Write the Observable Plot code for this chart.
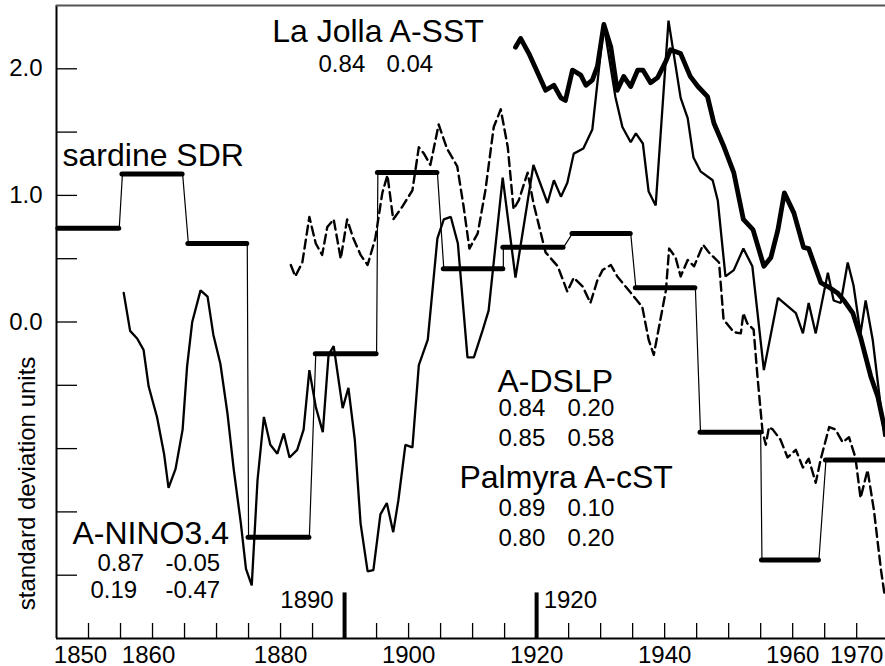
<!DOCTYPE html>
<html>
<head>
<meta charset="utf-8">
<script src="https://cdn.jsdelivr.net/npm/d3@7"></script>
<script src="https://cdn.jsdelivr.net/npm/@observablehq/plot@0.6"></script>
<style>
  html, body { margin: 0; padding: 0; background: #fff; overflow: hidden; }
</style>
</head>
<body>
<div id="chart"></div>
<script>
// ---- Data ----
// sardine SDR: decadal step values
const sdrStart = [1845.3, 1855.3, 1865.6, 1875.0, 1885.5, 1895.2, 1905.5, 1914.8, 1925.6, 1935.5, 1945.6, 1955.2, 1965.2];
const sdrEnd   = [1854.8, 1864.7, 1874.8, 1884.5, 1895.0, 1904.5, 1914.8, 1924.2, 1934.7, 1944.8, 1955.0, 1964.1, 1974.4];
const sdrValue = [0.74, 1.17, 0.62, -1.70, -0.25, 1.18, 0.42, 0.59, 0.70, 0.27, -0.87, -1.88, -1.09];

// thin solid series (A-NINO3.4 record)
const ninoYear = [1855.5,1856.5,1857.6,1858.6,1859.4,1860.7,1861.8,1862.5,1863.6,1864.7,1865.4,1866.2,1867.5,1868.6,1869.5,1870.6,1871.7,1872.7,1873.8,1874.6,1875.5,1876.4,1877.4,1878.4,1879.5,1880.5,1881.4,1882.6,1883.6,1884.5,1885.5,1886.6,1887.5,1888.3,1889.7,1890.6,1891.6,1892.5,1893.6,1894.5,1895.6,1896.6,1897.6,1898.4,1899.5,1900.6,1901.6,1903.0,1904.5,1905.5,1906.6,1907.7,1909.2,1910.2,1911.6,1912.5,1914.7,1916.7,1919.5,1921.7,1922.7,1923.8,1924.8,1925.8,1927.3,1928.7,1930.5,1932.3,1933.4,1934.7,1935.5,1936.6,1937.5,1938.6,1940.6,1942.5,1943.6,1944.5,1945.6,1947.5,1948.3,1949.5,1950.8,1952.3,1953.7,1955.5,1957.7,1960.5,1961.6,1962.5,1963.6,1965.5,1966.4,1967.5,1968.6,1969.5,1970.6,1971.4,1972.5,1974.3];
const ninoValue = [0.23,-0.07,-0.13,-0.22,-0.51,-0.75,-1.04,-1.31,-1.16,-0.85,-0.35,0.00,0.25,0.20,-0.10,-0.33,-0.72,-1.17,-1.59,-1.95,-2.08,-1.25,-0.75,-0.97,-1.04,-0.88,-1.07,-1.01,-0.85,-0.38,-0.67,-0.87,-0.26,-0.19,-0.68,-0.52,-0.93,-1.59,-1.97,-1.96,-1.52,-1.43,-1.66,-1.41,-0.97,-0.99,-0.34,-0.14,0.66,0.81,0.83,0.62,-0.28,-0.28,-0.06,0.09,1.14,0.35,1.24,0.94,1.12,0.99,1.10,1.33,1.37,1.52,2.35,1.78,1.54,1.42,1.49,1.41,1.03,0.92,2.38,1.77,1.61,1.30,1.19,1.12,0.96,0.36,0.41,0.58,0.44,-0.38,0.19,0.07,-0.09,0.15,-0.09,0.39,0.17,0.15,0.47,0.29,-0.09,0.17,-0.14,-0.90];

// dashed series
const dashYear = [1881.6,1882.3,1883.4,1884.5,1885.5,1886.5,1887.3,1888.3,1889.4,1890.4,1891.3,1892.5,1893.6,1894.8,1895.9,1896.7,1897.6,1899.0,1900.6,1901.6,1902.4,1903.4,1904.7,1906.0,1907.6,1908.6,1909.5,1910.8,1912.0,1913.3,1914.4,1915.5,1916.4,1917.2,1918.6,1919.5,1921.4,1923.3,1924.8,1925.8,1927.2,1928.4,1929.5,1930.3,1931.6,1932.6,1933.9,1935.2,1936.5,1937.5,1938.3,1940.2,1940.7,1941.7,1942.5,1943.6,1944.6,1946.0,1946.9,1947.7,1948.5,1949.2,1950.8,1951.9,1952.3,1952.9,1953.9,1954.5,1955.3,1955.8,1956.3,1956.9,1958.1,1959.2,1960.5,1961.6,1962.5,1963.6,1964.4,1965.7,1966.7,1967.8,1968.8,1969.8,1970.6,1971.7,1972.7,1973.8,1974.4];
const dashValue = [0.45,0.36,0.47,0.83,0.62,0.53,0.75,0.81,0.50,0.81,0.67,0.53,0.45,0.66,1.02,1.16,0.81,0.91,1.04,1.38,1.33,1.24,1.56,1.37,1.23,0.91,0.58,0.70,1.04,1.54,1.68,1.38,0.89,0.96,1.18,0.94,0.55,0.44,0.24,0.35,0.28,0.15,0.33,0.41,0.45,0.36,0.28,0.20,0.12,-0.14,-0.26,0.25,0.58,0.51,0.36,0.49,0.44,0.61,0.55,0.51,0.47,0.02,-0.08,-0.09,0.07,-0.01,-0.06,-0.43,-0.87,-0.97,-0.83,-0.85,-0.93,-1.07,-1.01,-1.15,-1.08,-1.27,-1.08,-0.83,-0.85,-0.95,-0.91,-1.07,-1.39,-1.17,-1.49,-1.96,-2.17];

// La Jolla A-SST (thick)
const ljYear = [1916.7,1917.5,1918.8,1921.4,1922.7,1923.8,1924.5,1925.6,1926.9,1927.7,1928.7,1929.5,1930.5,1931.6,1932.6,1933.6,1934.7,1935.8,1936.6,1937.8,1938.9,1940.2,1940.9,1942.5,1944.0,1945.2,1946.7,1947.7,1949.3,1950.8,1952.3,1953.8,1955.5,1956.6,1957.7,1958.7,1960.2,1961.7,1962.5,1964.4,1965.5,1967.0,1968.0,1969.4,1970.6,1972.2,1973.3,1974.4];
const ljValue = [2.17,2.24,2.12,1.83,1.87,1.77,1.75,1.99,1.95,1.87,1.91,2.02,2.35,2.17,1.83,1.94,1.86,1.99,1.99,1.89,1.93,2.06,2.15,2.12,1.94,1.86,1.78,1.57,1.38,1.18,0.81,0.73,0.44,0.51,0.73,1.02,0.86,0.59,0.58,0.31,0.28,0.23,0.17,0.07,-0.12,-0.43,-0.59,-0.85];

// markers and axis ticks
const markerYears = [1890, 1920];
const markerLabels = ["1890", "1920"];
const xTickYears = [1850,1855,1860,1865,1870,1875,1880,1885,1895,1900,1905,1910,1915,1925,1930,1935,1940,1945,1950,1955,1960,1965,1970];
const xLabelYears = [1850,1860,1880,1900,1920,1940,1960,1970];
const yTickValues = [-2,-1.5,-1,-0.5,0,0.5,1,1.5,2];
const yLabelValues = [0,1,2];

// text
const seriesNames = ["sardine SDR", "La Jolla A-SST", "A-DSLP", "Palmyra A-cST", "A-NINO3.4"];
const laJollaStats = ["0.84", "0.04"];
const dslpStats = [["0.84", "0.20"], ["0.85", "0.58"]];
const palmyraStats = [["0.89", "0.10"], ["0.80", "0.20"]];
const ninoStats = [["0.87", "-0.05"], ["0.19", "-0.47"]];
const yAxisTitle = "standard deviation units";

// ---- Build tables ----
const sdrSteps = sdrValue.map((v, i) => ({x1: sdrStart[i], x2: sdrEnd[i], y: v}));
const sdrPath = sdrValue.flatMap((v, i) => [{x: sdrStart[i], y: v}, {x: sdrEnd[i], y: v}]);
const nino = ninoYear.map((x, i) => ({x, y: ninoValue[i]}));
const dash = dashYear.map((x, i) => ({x, y: dashValue[i]}));
const lj = ljYear.map((x, i) => ({x, y: ljValue[i]}));

const FONT = "'Liberation Sans', Arial, Helvetica, sans-serif";
const big = 32, small = 24;
function txt(s, x, y, size, anchor = "start", extra = {}) {
  return Plot.text([s], {x: () => x, y: () => y, text: d => d, fontSize: size, textAnchor: anchor, lineAnchor: "bottom", fill: "black", ...extra});
}
const xAxisOpts = {tickSize: 0, tickPadding: 7, tickFormat: d => String(d), fontSize: small, label: null};

const marks = [
  // frame lines
  Plot.ruleX([1845], {stroke: "black", strokeWidth: 2}),
  Plot.ruleY([-2.5], {stroke: "black", strokeWidth: 2}),
  Plot.ruleY([2.5], {stroke: "#555", strokeWidth: 2}),
  // inward ticks
  Plot.tickY(yTickValues, {y: d => d, insetRight: 808, stroke: "black", strokeWidth: 1.3}),
  Plot.tickX(xTickYears, {x: d => d, insetTop: 618, stroke: "black", strokeWidth: 1.3}),
  // axis labels
  Plot.axisY({ticks: yLabelValues, tickSize: 0, tickPadding: 14, tickFormat: d3.format(".1f"), fontSize: small, label: null}),
  Plot.axisX({ticks: xLabelYears.slice(0, 1), dx: -8, ...xAxisOpts}),
  Plot.axisX({ticks: xLabelYears.slice(1, 2), dx: -4, ...xAxisOpts}),
  Plot.axisX({ticks: xLabelYears.slice(2), ...xAxisOpts}),
  Plot.text([yAxisTitle], {x: () => 1841.7, y: () => -1.275, text: d => d, rotate: -90, fontSize: 24, textAnchor: "middle", lineAnchor: "bottom"}),
  // sardine SDR
  Plot.line(sdrPath, {x: "x", y: "y", stroke: "black", strokeWidth: 1.2}),
  Plot.ruleY(sdrSteps, {x1: "x1", x2: "x2", y: "y", stroke: "black", strokeWidth: 5, strokeLinecap: "round"}),
  // series
  Plot.line(dash, {x: "x", y: "y", stroke: "black", strokeWidth: 2.4, strokeDasharray: "9,5"}),
  Plot.line(nino, {x: "x", y: "y", stroke: "black", strokeWidth: 2.3, strokeLinejoin: "miter"}),
  Plot.line(lj, {x: "x", y: "y", stroke: "black", strokeWidth: 4.8, strokeLinejoin: "round"}),
  // 1890 / 1920 markers
  Plot.ruleX(markerYears, {x: d => d, y1: -2.14, y2: -2.5, stroke: "black", strokeWidth: 4}),
  txt(markerLabels[0], 1888.3, -2.263, small, "end"),
  txt(markerLabels[1], 1921.1, -2.263, small, "start"),
  // labels
  txt(seriesNames[0], 1845.94, 1.236, big),
  txt(seriesNames[1], 1895.22, 2.208, big, "middle"),
  txt(laJollaStats[0], 1885.93, 1.971, small),
  txt(laJollaStats[1], 1896.55, 1.971, small),
  txt(seriesNames[2], 1913.89, -0.549, big),
  txt(dslpStats[0][0], 1914.05, -0.745, small),
  txt(dslpStats[0][1], 1924.83, -0.745, small),
  txt(dslpStats[1][0], 1914.05, -0.98, small),
  txt(dslpStats[1][1], 1924.83, -0.98, small),
  txt(seriesNames[3], 1907.95, -1.315, big),
  txt(palmyraStats[0][0], 1914.05, -1.532, small),
  txt(palmyraStats[0][1], 1924.83, -1.532, small),
  txt(palmyraStats[1][0], 1914.05, -1.768, small),
  txt(palmyraStats[1][1], 1924.83, -1.768, small),
  txt(seriesNames[4], 1847.5, -1.75, big),
  txt(ninoStats[0][0], 1851.4, -1.966, small),
  txt(ninoStats[0][1], 1862.03, -1.966, small),
  txt(ninoStats[1][0], 1850.31, -2.178, small),
  txt(ninoStats[1][1], 1862.03, -2.178, small)
];

const chart = Plot.plot({
  width: 885,
  height: 666,
  marginLeft: 56,
  marginRight: 0,
  marginTop: 5,
  marginBottom: 28,
  x: {domain: [1845, 1974.5]},
  y: {domain: [-2.5, 2.5]},
  style: {fontFamily: FONT, fontSize: "23px", background: "white", color: "black", overflow: "visible"},
  marks
});
document.getElementById("chart").appendChild(chart);
</script>
</body>
</html>
